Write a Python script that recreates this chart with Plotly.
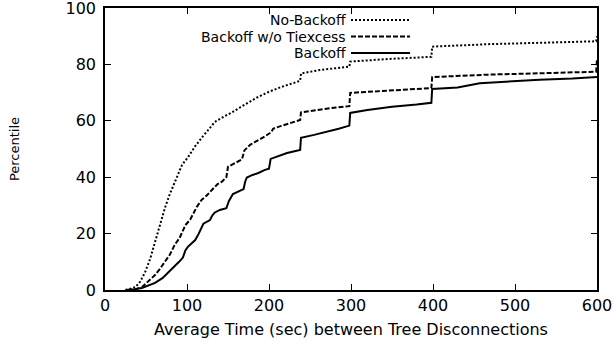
import plotly.graph_objects as go

# Cumulative distributions of the average time between tree disconnections
series_names = ["No-Backoff", "Backoff w/o Tiexcess", "Backoff"]

no_backoff_x = [25, 31, 37, 43, 49, 55, 61, 67, 73, 79, 85, 94, 101, 110, 118, 126,
                134, 145, 155, 165, 174, 187, 200, 215, 230, 238, 239, 250, 262, 280,
                298, 299, 320, 350, 380, 398, 399, 430, 470, 510, 550, 599, 600]
no_backoff_y = [0, 0.5, 1, 3, 6.4, 11, 17, 23, 29, 34, 38, 44.4, 47, 51, 54, 57,
                59.6, 61.5, 63, 64.8, 66.4, 68.5, 70.3, 72, 73.4, 74.2, 76.8, 77.5, 78, 78.6,
                79.2, 81, 81.5, 82, 82.4, 82.7, 86.3, 86.8, 87.2, 87.5, 87.8, 88.2, 90]

no_tiexcess_x = [28, 37, 45, 53, 61, 67, 73, 79, 85, 91, 98, 104, 112, 118, 124, 130,
                 137, 143, 148, 150, 158, 167, 170, 177, 183, 190, 195, 203, 205, 215,
                 225, 238, 239, 255, 270, 285, 298, 299, 320, 350, 380, 398, 399, 430,
                 470, 510, 550, 599, 600]
no_tiexcess_y = [0, 0.3, 1, 3, 5.3, 7.5, 9.9, 12.5, 16, 18.5, 23, 25, 29.5, 32, 33.5, 35.5,
                 37.5, 38.5, 40, 43.7, 45, 46.3, 49.5, 51.5, 52.5, 53.5, 54.5, 56, 57.2, 58.2,
                 59, 60.3, 63, 63.8, 64.3, 64.8, 65.2, 69.9, 70.3, 70.8, 71.3, 71.6, 75.5, 76,
                 76.4, 76.7, 77, 77.4, 82]

backoff_x = [25, 35, 45, 53, 61, 70, 78, 84, 90, 95, 98, 101, 104, 110, 114, 117, 120,
             128, 131, 134, 140, 148, 151, 156, 163, 169, 171, 173, 180, 187, 195, 200,
             202, 210, 222, 238, 239, 255, 270, 285, 298, 299, 320, 350, 380, 398, 399,
             430, 457, 490, 530, 570, 600]
backoff_y = [0, 0.2, 0.7, 1.5, 2.5, 4.2, 6.4, 8.2, 9.9, 11.5, 14, 15.3, 16, 17.7, 19.8, 22,
             23.5, 24.8, 26.5, 27.5, 28.4, 29, 31.5, 34, 35, 35.8, 38.5, 39.9, 40.8, 41.5,
             42.6, 43, 46.5, 47.4, 48.6, 49.7, 54, 55, 56, 57.2, 58.3, 62.8, 63.8, 65, 65.8,
             66.4, 71.3, 71.8, 73.3, 74, 74.6, 75, 75.5]

x_ticks = [0, 100, 200, 300, 400, 500, 600]
y_ticks = [0, 20, 40, 60, 80, 100]

FONT = "DejaVu Sans"
dashes = ["2px,2px", "5px,2px", "solid"]
xs = [no_backoff_x, no_tiexcess_x, backoff_x]
ys = [no_backoff_y, no_tiexcess_y, backoff_y]

fig = go.Figure()
for name, x, y, dash in zip(series_names, xs, ys, dashes):
    fig.add_trace(go.Scatter(x=x, y=y, mode="lines", name=name,
                             line=dict(color="black", width=2, dash=dash),
                             showlegend=False))

# Key near the top of the plot: label right-aligned, line sample after it
row_y = [0.9574, 0.8989, 0.8404]
for name, dash, yy in zip(series_names, dashes, row_y):
    fig.add_annotation(x=0.4919, y=yy, xref="paper", yref="paper", text=name,
                       showarrow=False, xanchor="right", yanchor="middle",
                       borderpad=0,
                       font=dict(family=FONT, size=14, color="black"))
    fig.add_shape(type="line", xref="paper", yref="paper", x0=0.500, x1=0.620,
                  y0=yy, y1=yy, line=dict(color="black", width=2, dash=dash))

axis_common = dict(showline=True, linecolor="black", linewidth=1.5, mirror="ticks",
                   ticks="inside", ticklen=6, tickcolor="black", tickwidth=1,
                   showgrid=False, zeroline=False, automargin=False,
                   ticklabeloverflow="allow",
                   tickfont=dict(family=FONT, size=16, color="black"))

fig.update_layout(
    width=616, height=343,
    margin=dict(l=105, r=19, t=8, b=53),
    paper_bgcolor="white", plot_bgcolor="white",
    xaxis=dict(range=[0, 600], tickvals=x_ticks, ticklabelstandoff=0,
               title=dict(text="Average Time (sec) between Tree Disconnections",
                          font=dict(family=FONT, size=16, color="black"), standoff=10),
               **axis_common),
    yaxis=dict(range=[0, 100], tickvals=y_ticks, ticklabelstandoff=4,
               title=dict(text="Percentile",
                          font=dict(family=FONT, size=13, color="black"), standoff=43),
               **axis_common),
)

fig.write_html("out.html")
